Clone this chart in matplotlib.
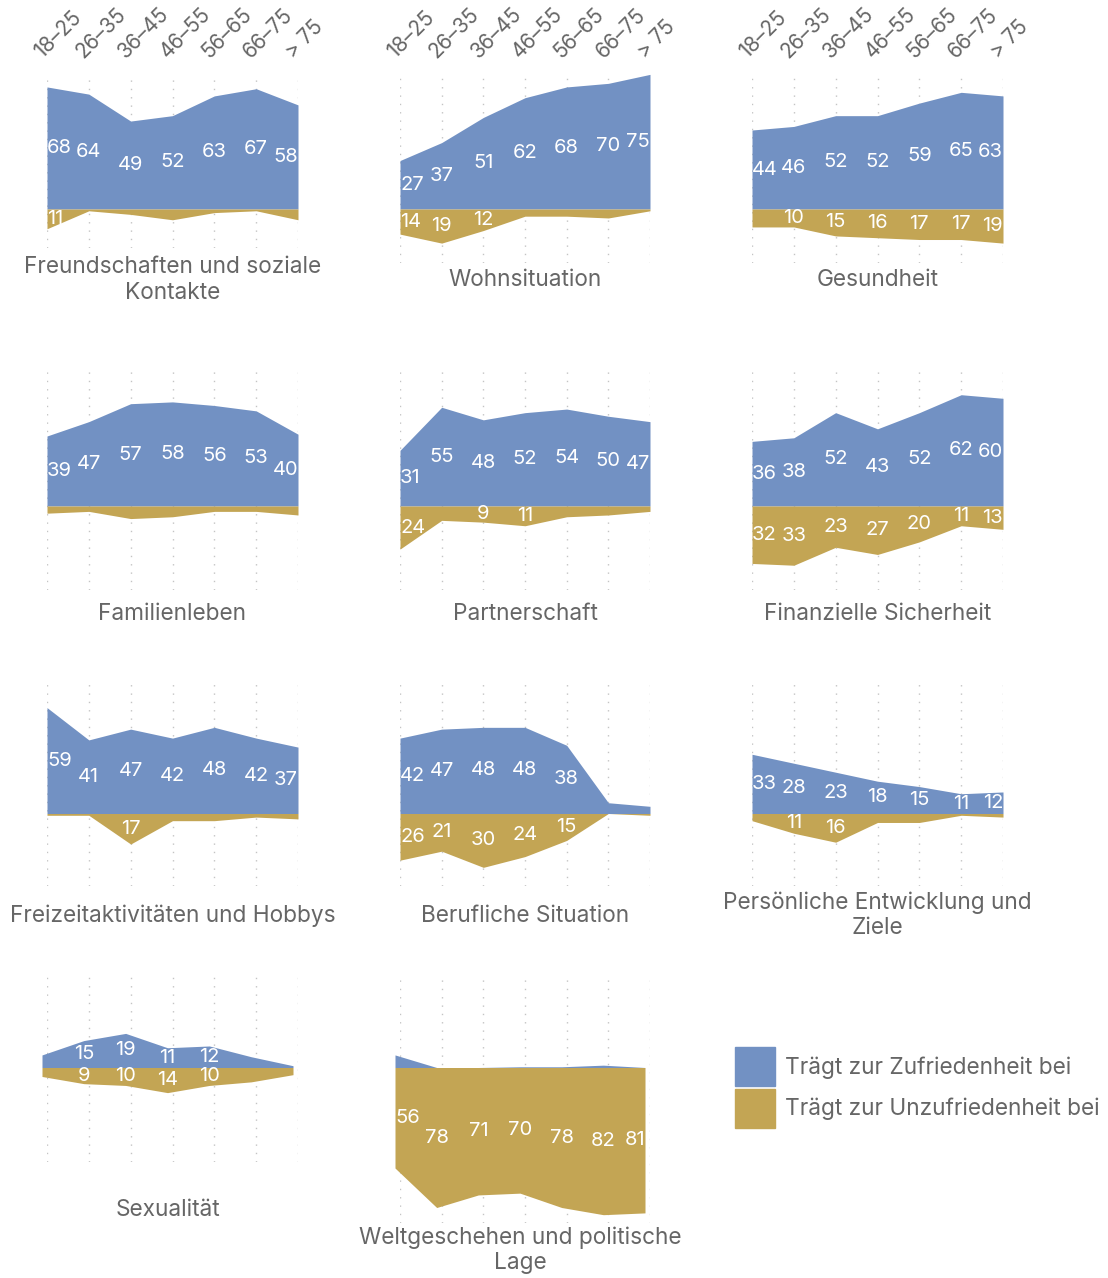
import matplotlib
matplotlib.use('Agg')
import matplotlib.pyplot as plt
from matplotlib.patches import Patch
from matplotlib.transforms import offset_copy


W, H = 1108, 1278
BLUE = '#7291c3'
GOLD = '#c3a554'
GREY = '#666666'
PX_PER_UNIT = 1.795

ages = ['18–25', '26–35', '36–45', '46–55', '56–65', '66–75', '> 75']

freundschaften_zufrieden = [68, 64, 49, 52, 63, 67, 58]
freundschaften_unzufrieden = [11, 1, 3, 6, 2, 1, 6]
wohnen_zufrieden = [27, 37, 51, 62, 68, 70, 75]
wohnen_unzufrieden = [14, 19, 12, 4, 4, 5, 1]
gesundheit_zufrieden = [44, 46, 52, 52, 59, 65, 63]
gesundheit_unzufrieden = [10, 10, 15, 16, 17, 17, 19]
familie_zufrieden = [39, 47, 57, 58, 56, 53, 40]
familie_unzufrieden = [4, 3, 7, 6, 3, 3, 5]
partner_zufrieden = [31, 55, 48, 52, 54, 50, 47]
partner_unzufrieden = [24, 8, 9, 11, 6, 5, 3]
finanzen_zufrieden = [36, 38, 52, 43, 52, 62, 60]
finanzen_unzufrieden = [32, 33, 23, 27, 20, 11, 13]
freizeit_zufrieden = [59, 41, 47, 42, 48, 42, 37]
freizeit_unzufrieden = [1, 1, 17, 4, 4, 2, 3]
beruf_zufrieden = [42, 47, 48, 48, 38, 6, 4]
beruf_unzufrieden = [26, 21, 30, 24, 15, 0, 1]
entwicklung_zufrieden = [33, 28, 23, 18, 15, 11, 12]
entwicklung_unzufrieden = [4, 11, 16, 5, 5, 1, 2]
sexualitaet_zufrieden = [7, 15, 19, 11, 12, 6, 1]
sexualitaet_unzufrieden = [5, 9, 10, 14, 10, 8, 4]
welt_zufrieden = [7, 0, 0, 0.4, 0.4, 1.3, 0]
welt_unzufrieden = [56, 78, 71, 70, 78, 82, 81]

legend_labels = ['Trägt zur Zufriedenheit bei', 'Trägt zur Unzufriedenheit bei']

# labels the original leaves out
hidden_labels = {('Gesundheit', 'neg', 0)}

# pixel layout: x0, x1, zero line, top, bottom, title y, x shift of the areas
panels = [
    ('Freundschaften und soziale\nKontakte', freundschaften_zufrieden, freundschaften_unzufrieden,
     (47, 298, 209, 76, 248, 280, 0)),
    ('Wohnsituation', wohnen_zufrieden, wohnen_unzufrieden, (400, 650, 209, 76, 263, 280, 0)),
    ('Gesundheit', gesundheit_zufrieden, gesundheit_unzufrieden, (752, 1003, 209, 76, 263, 280, 0)),
    ('Familienleben', familie_zufrieden, familie_unzufrieden, (47, 298, 506, 367, 590, 614, 0)),
    ('Partnerschaft', partner_zufrieden, partner_unzufrieden, (400, 650, 506, 367, 590, 614, 0)),
    ('Finanzielle Sicherheit', finanzen_zufrieden, finanzen_unzufrieden, (752, 1003, 506, 367, 590, 614, 0)),
    ('Freizeitaktivitäten und Hobbys', freizeit_zufrieden, freizeit_unzufrieden,
     (47, 298, 813.5, 680, 886, 916, 0)),
    ('Berufliche Situation', beruf_zufrieden, beruf_unzufrieden, (400, 650, 813.5, 680, 886, 916, 0)),
    ('Persönliche Entwicklung und\nZiele', entwicklung_zufrieden, entwicklung_unzufrieden,
     (752, 1003, 813.5, 680, 886, 915.5, 0)),
    ('Sexualität', sexualitaet_zufrieden, sexualitaet_unzufrieden, (47, 298, 1067.5, 973, 1162, 1210, -5)),
    ('Weltgeschehen und politische\nLage', welt_zufrieden, welt_unzufrieden,
     (400, 650, 1067.5, 973, 1223, 1250, -5)),
]


def label_text(ax, i, y, v, tr):
    if i == 0:
        ha = 'left'
    elif i == len(ages) - 1:
        ha = 'right'
    else:
        ha = 'center'
    ax.text(i, y, str(int(round(v))), ha=ha, va='center', color='white', fontsize=14.5,
            transform=tr, zorder=3, clip_on=False)


def creating_panel(fig, title, pos, neg, layout, show_ticks):
    x0, x1, zero, top, bottom, title_y, shift = layout
    ax = fig.add_axes([x0 / W, 1 - bottom / H, (x1 - x0) / W, (bottom - top) / H])
    x = list(range(len(ages)))
    tr = offset_copy(ax.transData, fig=fig, x=shift, y=0, units='dots')
    ax.fill_between(x, 0, pos, color=BLUE, lw=0, transform=tr, zorder=2, clip_on=False)
    ax.fill_between(x, 0, [-v for v in neg], color=GOLD, lw=0, transform=tr, zorder=2, clip_on=False)
    ax.set_xlim(0, len(ages) - 1)
    ax.set_ylim(-(bottom - zero) / PX_PER_UNIT, (zero - top) / PX_PER_UNIT)
    ax.set_xticks(x)
    ax.set_yticks([])
    ax.tick_params(length=0, labelbottom=False)
    ax.grid(axis='x', color='#c4c4c4', linestyle=(0, (1, 5)), lw=1)
    ax.set_axisbelow(True)
    for s in ax.spines.values():
        s.set_visible(False)

    key = title.split('\n')[0]
    for i, v in enumerate(pos):
        if v >= 9 and (key, 'pos', i) not in hidden_labels:
            label_text(ax, i, v / 2, v, tr)
    for i, v in enumerate(neg):
        if v >= 9 and (key, 'neg', i) not in hidden_labels:
            label_text(ax, i, -v / 2, v, tr)

    if show_ticks:
        ttr = offset_copy(ax.get_xaxis_transform(), fig=fig, x=-5, y=17, units='dots')
        for i, a in enumerate(ages):
            ax.text(i, 1, a, rotation=45, rotation_mode='anchor', ha='left', va='baseline',
                    fontsize=15, color=GREY, transform=ttr)

    fig.text(((x0 + x1) / 2 + shift) / W, 1 - title_y / H, title, ha='center', va='center',
             fontsize=16.3, color=GREY, linespacing=1.2)


def main():
    plt.rcParams['font.family'] = ['Inter', 'DejaVu Sans']
    fig = plt.figure(figsize=(W / 100, H / 100), dpi=100)
    for n, (title, pos, neg, layout) in enumerate(panels):
        creating_panel(fig, title, pos, neg, layout, n < 3)

    handles = [Patch(color=BLUE, label=legend_labels[0]), Patch(color=GOLD, label=legend_labels[1])]
    fig.legend(handles=handles, loc='upper left', bbox_to_anchor=(735 / W, 1 - 1047 / H),
               frameon=False, fontsize=16.3, labelcolor=GREY, handlelength=1.75, handleheight=2.3,
               borderpad=0, borderaxespad=0, labelspacing=0.1, handletextpad=0.48)
    fig.savefig('out.png', dpi=100)
    return


if __name__ == '__main__':
    main()
